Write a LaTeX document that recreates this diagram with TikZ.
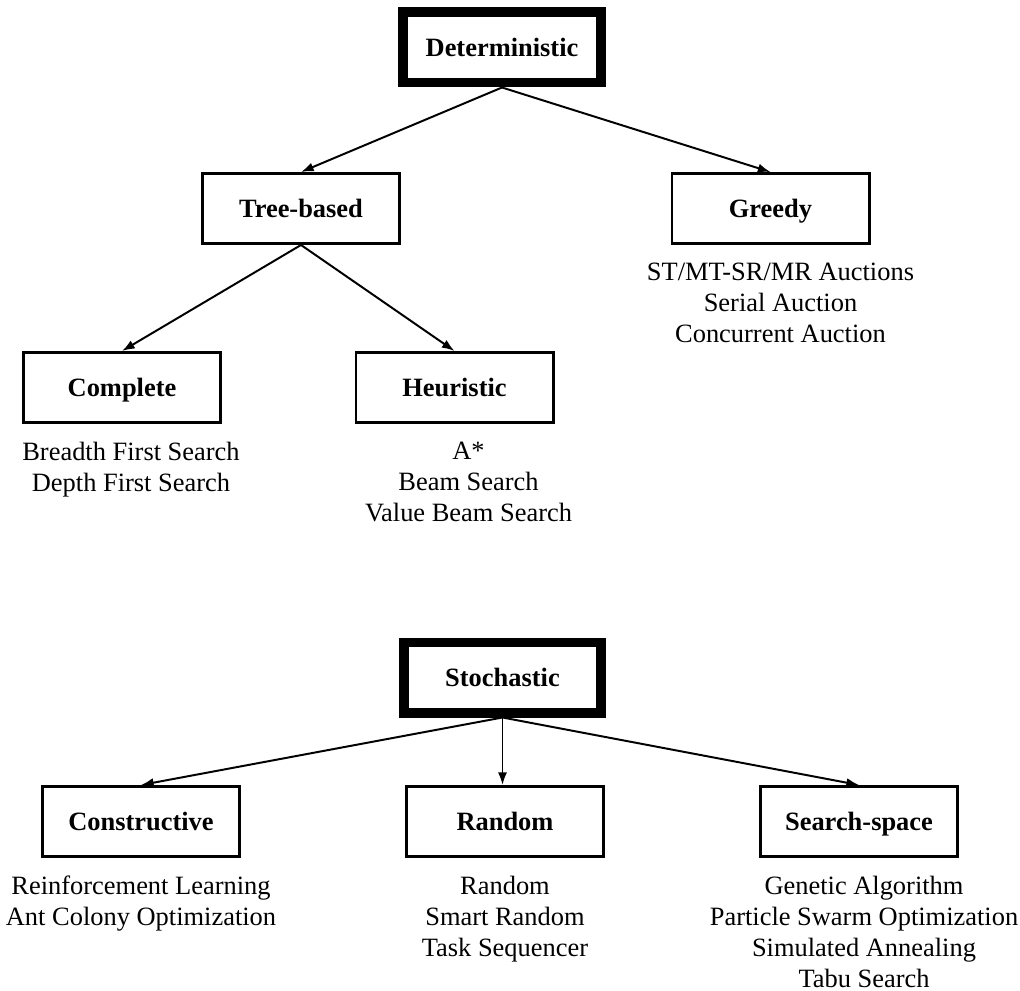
\documentclass[tikz,border=0pt]{standalone}
\usepackage{fontspec}
\setmainfont{Liberation Serif}
\usepackage{tikz}
\usetikzlibrary{arrows.meta, positioning}

\begin{document}
\begin{tikzpicture}[x=0.025cm, y=-0.025cm]
    \tikzstyle{box}=[draw, line width=2.1pt, minimum width=4.925cm, minimum height=1.75cm,
                     inner sep=0pt, text height=13.5pt, text depth=0pt,
                     font=\fontsize{18.8}{22}\selectfont\bfseries]
    \tikzstyle{root}=[box, line width=7.1pt]
    \tikzstyle{list}=[align=center, inner sep=0pt, font=\fontsize{18.8}{22}\selectfont]
    \tikzstyle{arr}=[-{Latex[length=9pt, width=6.5pt]}, line width=1.4pt]

    \useasboundingbox (0,0) rectangle (1020,991);

    % deterministic tree
    \node[root] (det)      at (502,47.5)    {Deterministic};
    \node[box]  (tree)     at (301,208.5)   {Tree-based};
    \node[box]  (greedy)   at (770.5,208.5) {Greedy};
    \node[box]  (complete) at (122,387.5)   {Complete};
    \node[box]  (heur)     at (454.5,387.5) {Heuristic};

    \node[list, below=0.45cm of greedy, xshift=0.25cm] (greedylist)
        {ST/MT-SR/MR Auctions\\Serial Auction\\Concurrent Auction};
    \node[list, below=0.45cm of complete, xshift=0.225cm] (completelist)
        {Breadth First Search\\Depth First Search};
    \node[list, below=0.45cm of heur, xshift=0.35cm] (heurlist)
        {A*\\Beam Search\\Value Beam Search};

    \draw[arr] (det.south)  -- (tree.north);
    \draw[arr] (det.south)  -- (greedy.north);
    \draw[arr] (tree.south) -- (complete.north);
    \draw[arr] (tree.south) -- (heur.north);

    % stochastic tree
    \node[root] (stoch)  at (502.5,677.5) {Stochastic};
    \node[box]  (constr) at (141,821.5)   {Constructive};
    \node[box]  (rand)   at (505,821.5)   {Random};
    \node[box]  (space)  at (859,821.5)   {Search-space};

    \node[list, below=0.45cm of constr] (constrlist)
        {Reinforcement Learning\\Ant Colony Optimization};
    \node[list, below=0.45cm of rand] (randlist)
        {Random\\Smart Random\\Task Sequencer};
    \node[list, below=0.45cm of space, xshift=0.125cm] (spacelist)
        {Genetic Algorithm\\Particle Swarm Optimization\\Simulated Annealing\\Tabu Search};

    \draw[arr] (stoch.south) -- (constr.north);
    \draw[arr] (stoch.south) -- (stoch.south |- rand.north);
    \draw[arr] (stoch.south) -- (space.north);
\end{tikzpicture}
\end{document}
